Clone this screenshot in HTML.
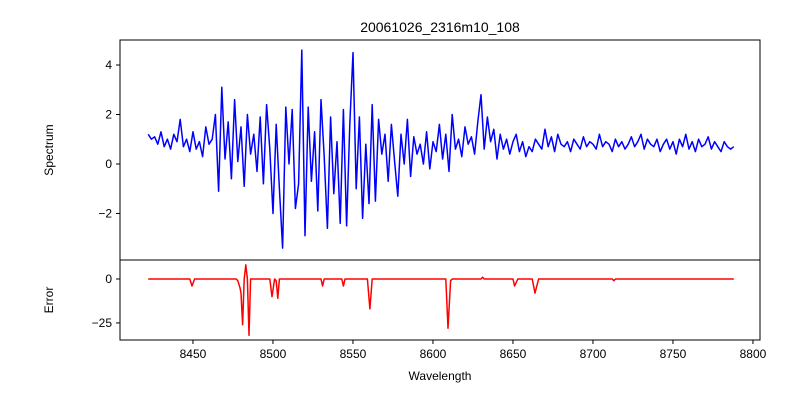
<!DOCTYPE html>
<html><head><meta charset="utf-8"><style>body{margin:0;background:#fff}svg{font-family:"Liberation Sans",sans-serif}</style></head>
<body>
<svg id="c" width="800" height="400"></svg>
<script>
const spec=[1.2,1.0,1.1,0.8,1.3,0.7,1.0,0.6,1.2,0.9,
1.8,0.7,1.0,0.5,1.3,0.6,0.9,0.3,1.5,0.8,
1.0,2.0,-1.1,3.1,0.2,1.7,-0.6,2.6,0.1,1.5,
-0.9,2.0,0.4,1.2,-0.3,1.9,-0.8,2.4,0.6,-2.0,
1.6,-1.0,-3.4,2.3,0.0,2.2,-1.8,-0.8,4.6,-2.9,
2.3,-0.7,1.3,-1.9,2.6,0.3,-2.6,1.9,-1.2,0.9,
-2.4,2.2,-2.5,1.6,4.5,-1.0,1.9,-2.2,0.8,-1.6,
2.4,-1.5,1.8,0.4,1.2,-0.7,1.6,0.1,-1.3,1.2,
0.0,1.8,-0.5,1.1,0.4,0.8,0.0,1.3,-0.2,0.9,
0.5,1.6,0.2,1.2,-0.3,2.0,0.6,1.0,0.3,1.5,
0.8,1.1,0.4,1.7,2.8,0.6,1.9,0.9,1.4,0.2,
1.2,0.6,1.0,0.4,0.9,1.2,0.5,0.9,0.3,0.7,
0.5,1.0,0.8,0.6,1.4,0.7,1.1,0.5,1.2,0.8,
0.7,0.9,0.5,1.0,0.8,0.6,1.1,0.7,0.9,0.8,
0.6,1.2,0.7,0.9,0.8,0.5,1.0,0.7,0.9,0.6,
0.8,1.1,0.7,0.9,1.2,0.6,1.0,0.8,0.7,1.0,
0.5,0.8,1.0,0.6,0.9,0.4,1.0,0.7,1.2,0.6,
0.9,0.5,1.0,0.7,0.8,1.1,0.6,0.9,0.7,0.5,
0.9,0.7,0.6,0.7];
const specStart=8422, specStep=2;
const errW=[8422,8448,8449.4,8451,8477,8478,8479.4,8480,8481,8482,8483,8484,8485,8486,8488,8498,8499.4,8501,8502,8503,8504,8530,8531,8532,8543,8544,8545,8559,8560.6,8562,8608,8609.4,8611,8612,8630,8631,8632,8650,8651,8653,8662,8663.8,8666,8712,8713,8714,8788];
const errV=[0,0,-4,0,0,-1,-5,-8,-26,0,8,0,-32,0,0,0,-10,0,-1,-11,0,0,-4,0,0,-4,0,0,-17,0,0,-28,-1,0,0,1,0,0,-4,0,0,-8,0,0,-1,0,0];
const xTicks=[8450,8500,8550,8600,8650,8700,8750,8800];
const yTicksTop=[-2,0,2,4];
const yTicksBot=[0,-25];
const L=120,R=760,T1=40,B1=260,T2=260,B2=340;
const X=v=>L+(v-8404.4)/400*(R-L);
const Y1=v=>B1-(v+3.88)/(5.01+3.88)*(B1-T1);
const Y2=v=>B2-(v+34.7)/(10.8+34.7)*(B2-T2);
const svg=document.getElementById('c');const NS='http://www.w3.org/2000/svg';
function mk(t,a,txt){const e=document.createElementNS(NS,t);for(const k in a)e.setAttribute(k,a[k]);if(txt!==undefined)e.textContent=txt;svg.appendChild(e);return e;}
let d='';spec.forEach((v,i)=>{d+=(i?'L':'M')+X(specStart+i*specStep).toFixed(1)+','+Y1(v).toFixed(1);});
let p=mk('path',{d:d,fill:'none',stroke:'#0000ff','stroke-width':1.5,'stroke-linejoin':'round'});


d='';errW.forEach((w,i)=>{d+=(i?'L':'M')+X(w).toFixed(1)+','+Y2(errV[i]).toFixed(1);});
p=mk('path',{d:d,fill:'none',stroke:'#ff0000','stroke-width':1.5,'stroke-linejoin':'round'});


let f=mk('rect',{x:L,y:T1,width:R-L,height:B1-T1,fill:'none',stroke:'#000','stroke-width':1});


f=mk('rect',{x:L,y:T2,width:R-L,height:B2-T2,fill:'none',stroke:'#000','stroke-width':1});


xTicks.forEach(v=>{const x=X(v);mk('line',{x1:x,x2:x,y1:B2,y2:B2+4,stroke:'#000'});
const t=mk('text',{x:x,y:B2+18,'font-size':12,'text-anchor':'middle'},v);

});
yTicksTop.forEach(v=>{const y=Y1(v);mk('line',{x1:L-4,x2:L,y1:y,y2:y,stroke:'#000'});
const t=mk('text',{x:L-8,y:y+4,'font-size':12,'text-anchor':'end'},v<0?'\u2212'+(-v):v);

});
yTicksBot.forEach(v=>{const y=Y2(v);mk('line',{x1:L-4,x2:L,y1:y,y2:y,stroke:'#000'});
const t=mk('text',{x:L-8,y:y+4,'font-size':12,'text-anchor':'end'},v<0?'\u2212'+(-v):v);

});
let t=mk('text',{x:440,y:32,'font-size':14,'text-anchor':'middle'},'20061026_2316m10_108');


t=mk('text',{x:440,y:380,'font-size':12,'text-anchor':'middle'},'Wavelength');


t=mk('text',{x:53,y:150,'font-size':12,'text-anchor':'middle',transform:'rotate(-90 53 150)'},'Spectrum');


t=mk('text',{x:53,y:300,'font-size':12,'text-anchor':'middle',transform:'rotate(-90 53 300)'},'Error');


</script>
</body></html>
